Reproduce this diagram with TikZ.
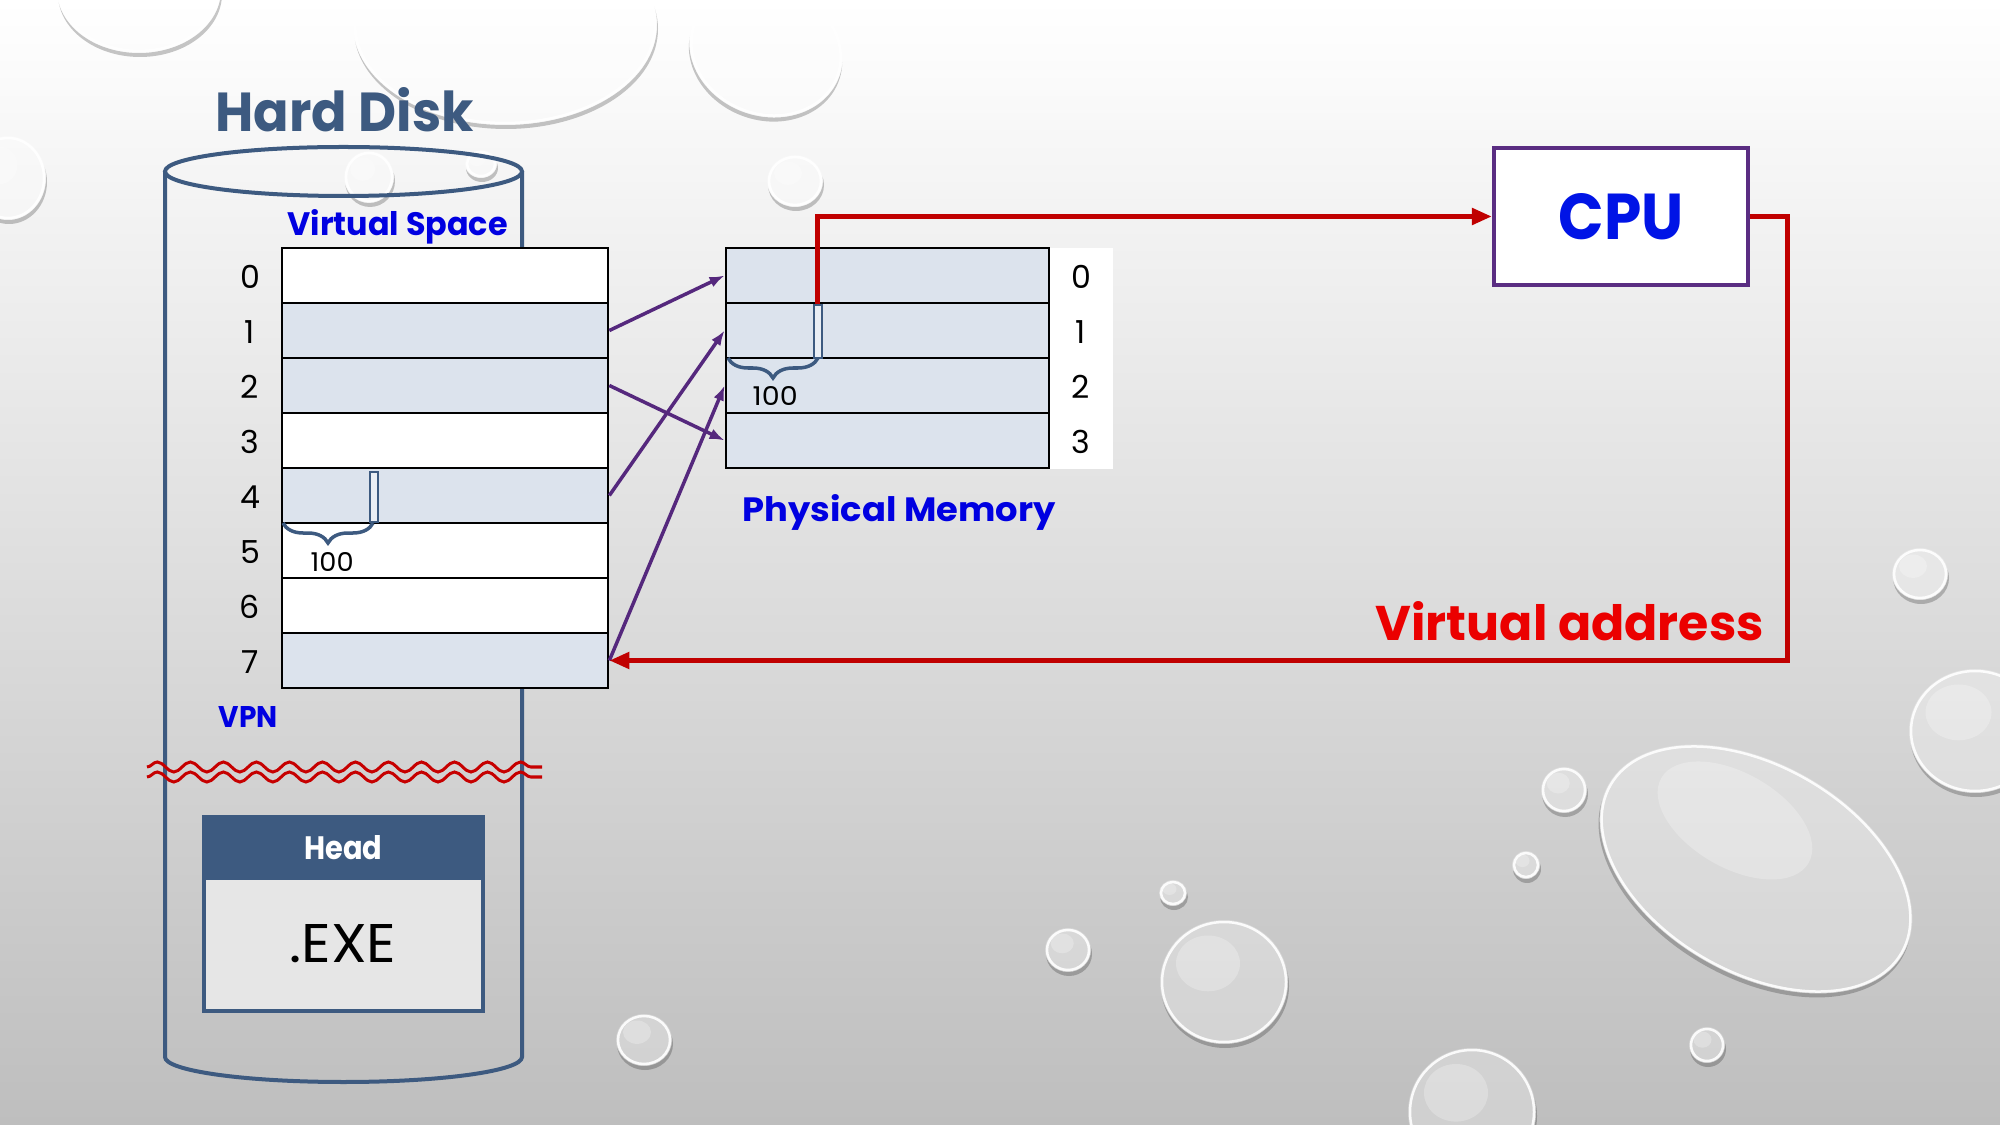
\documentclass[tikz,border=0pt]{standalone}
\usepackage{fontspec}
\setmainfont{Poppins}
\usetikzlibrary{arrows.meta,decorations.pathmorphing,decorations.pathreplacing}
\newlength\px \setlength\px{0.01cm}
\newcommand\fitt[3]{\resizebox{#1\px}{#2\px}{#3}}
\definecolor{steel}{RGB}{61,90,128}
\definecolor{vblue}{RGB}{0,0,225}
\definecolor{cpublue}{RGB}{0,20,230}
\definecolor{darkred}{RGB}{192,0,0}
\definecolor{vared}{RGB}{235,0,0}
\definecolor{purp}{RGB}{85,40,125}
\definecolor{cpupurp}{RGB}{90,45,130}
\definecolor{rowblue}{RGB}{220,227,237}
\definecolor{exegray}{RGB}{230,230,230}
\definecolor{bgmid}{RGB}{232,232,232}
\definecolor{bgbot}{RGB}{190,190,190}
\newcommand\waterdrop[5]{%
  \begin{scope}[shift={(#1,#2)}, rotate=#5]
    \begin{scope}[even odd rule]
      \clip (-2*#3,-2*#4) rectangle (2*#3,2*#4) (0,0) ellipse [x radius=#3, y radius=#4];
      \fill[black,opacity=0.22] (1,4) ellipse [x radius=#3, y radius=#4];
    \end{scope}
    \fill[white,opacity=0.28] (0,0) ellipse [x radius=#3, y radius=#4];
    \fill[white,opacity=0.25] (-0.25*#3,-0.3*#4) ellipse [x radius=0.5*#3, y radius=0.45*#4];
    \draw[white,opacity=0.9,line width=0.025cm] (0,0) ellipse [x radius=#3-2, y radius=#4-2];
  \end{scope}}
\tikzset{
  vrow/.style={draw=black, line width=0.025cm, minimum width=3.26cm, minimum height=0.55cm, inner sep=0pt},
  prow/.style={vrow, minimum width=3.23cm, fill=rowblue},
  num/.style={font=\fontsize{9pt}{9pt}\selectfont, inner sep=0pt, text=black},
  lbl/.style={inner sep=0pt, anchor=base west},
  marker/.style={draw=steel, fill=rowblue!60!white, line width=0.02cm, inner sep=0pt, minimum width=0.08cm},
  brc/.style={draw=steel, line width=0.035cm, decorate, decoration={brace, mirror, amplitude=0.2cm}},
  pline/.style={draw=purp, line width=0.035cm, -{Latex[length=0.15cm,width=0.11cm]}},
  rline/.style={draw=darkred, line width=0.05cm},
  rtip/.style={-{Triangle[length=0.2cm,width=0.16cm]}},
  cyl/.style={draw=steel, line width=0.04cm},
  squig/.style={draw=darkred!90!red, line width=0.03cm, decorate, decoration={snake, segment length=0.33cm, amplitude=0.05cm}},
}
\begin{document}
\begin{tikzpicture}[x=0.01cm,y=-0.01cm]
\useasboundingbox (0,0) rectangle (2000,1125);
\shade[top color=white, middle color=bgmid, bottom color=bgbot] (0,0) rectangle (2000,1125);
\begin{scope}
\clip (0,0) rectangle (2000,1125);
\waterdrop{139}{-10}{82}{63}{0}
\waterdrop{505}{25}{152}{100}{0}
\waterdrop{766}{50}{78}{66}{-20}
\waterdrop{8}{178}{38}{42}{0}
\waterdrop{369}{177}{25}{26}{0}
\waterdrop{481}{164}{16}{14}{0}
\waterdrop{795}{181}{28}{26}{0}
\waterdrop{1920}{574}{28}{26}{0}
\waterdrop{1975}{731}{66}{62}{0}
\waterdrop{1756}{869}{170}{105}{-30}
\waterdrop{1564}{790}{23}{23}{0}
\waterdrop{1526}{865}{14}{14}{0}
\waterdrop{1173}{893}{14}{13}{0}
\waterdrop{1068}{950}{23}{22}{0}
\waterdrop{1224}{982}{64}{62}{0}
\waterdrop{1707}{1045}{18}{18}{0}
\waterdrop{1472}{1112}{64}{64}{0}
\waterdrop{644}{1040}{28}{26}{0}
\end{scope}

% Hard disk cylinder
\node[lbl, text=steel] (hd) at (215,132) {\fitt{258}{44}{\bfseries Hard Disk}};
\draw[cyl] (343.5,171.5) ellipse [x radius=178.5, y radius=24.5];
\draw[cyl] (165,171.5) -- (165,1057) arc[start angle=180, end angle=0, x radius=178.5, y radius=25] -- (522,171.5);
\node[lbl, text=vblue] (vs) at (287,236) {\fitt{220}{26}{\bfseries Virtual Space}};

% virtual space table
\foreach \i/\f in {0/white,1/rowblue,2/rowblue,3/white,4/rowblue,5/white,6/white,7/rowblue}{
  \node[vrow, fill=\f] (v\i) at (445,275.5+55*\i) {};
  \node[num] (vn\i) at (250,277+55*\i) {\i};
}
\node[lbl, text=vblue] (vpn) at (218,728) {\fitt{59}{21}{\bfseries VPN}};
\node[marker, minimum height=0.5cm] (vm) at (374,497) {};
\coordinate (vb1) at (283,523);
\coordinate (vb2) at (373,523);
\draw[brc] (vb1) -- (vb2);
\node[lbl] (v100) at (310,572) {\fitt{43}{19}{100}};

% squiggles
\draw[squig] (147,767) -- (542,767);
\draw[squig] (147,777) -- (542,777);

% head / exe
\node[draw=steel, line width=0.04cm, fill=exegray, minimum width=2.79cm, minimum height=1.94cm, inner sep=0pt] (exebox) at (343.5,914) {};
\node[fill=steel, minimum width=2.83cm, minimum height=0.65cm, inner sep=0pt, text=white] (head) at (343.5,847.5) {\fitt{78}{24}{\bfseries Head}};
\node[inner sep=0pt] (exe) at (343,944) {\fitt{107}{38}{.EXE}};

% physical memory
\fill[white] (1049,248) rectangle (1113,469);
\foreach \i in {0,...,3}{
  \node[prow] (p\i) at (887.5,275.5+55*\i) {};
  \node[num] (pn\i) at (1081,277+55*\i) {\i};
}
\node[marker, minimum height=0.53cm] (pm) at (817.5,331.5) {};
\coordinate (pb1) at (728,358);
\coordinate (pb2) at (818,358);
\draw[brc] (pb1) -- (pb2);
\node[lbl] (p100) at (752,406) {\fitt{45}{19}{100}};
\node[lbl, text=vblue] (pmt) at (742,522) {\fitt{313}{27}{\bfseries Physical Memory}};

% mapping arrows
\draw[pline] (v1.east) -- (p0.west);
\draw[pline] (v2.east) -- (p3.west);
\draw[pline] (v4.east) -- (p1.west);
\draw[pline] (v7.east) -- (p2.west);

% CPU
\node[draw=cpupurp, line width=0.04cm, fill=white, minimum width=2.54cm, minimum height=1.37cm, inner sep=0pt, text=cpublue] (cpu) at (1621,216.5) {\fitt{125}{46}{\bfseries CPU}};
\draw[rline, rtip] (pm.north) |- (cpu.west);
\coordinate (rc) at (1787,660.5);
\draw[rline, rtip] (cpu.east) -| (rc) -- (v7.east);
\node[lbl, text=vared] (vat) at (1375,641) {\fitt{388}{39}{\bfseries Virtual address}};
\end{tikzpicture}
\end{document}
